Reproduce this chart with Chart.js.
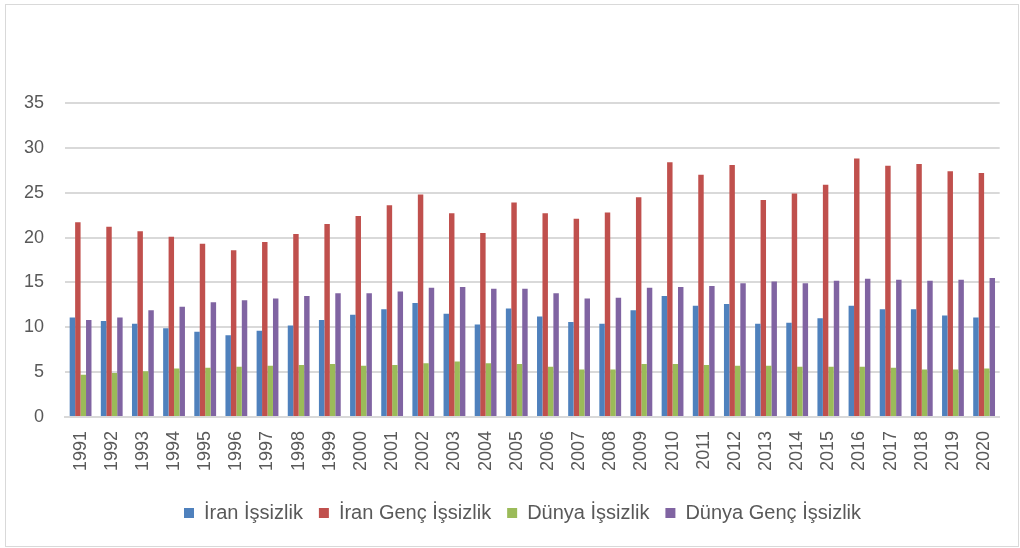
<!DOCTYPE html>
<html>
<head>
<meta charset="utf-8">
<script src="https://cdn.jsdelivr.net/npm/chart.js@4/dist/chart.umd.min.js"></script>
<style>
  html, body { margin: 0; padding: 0; background: #ffffff; }
  #wrap { width: 1020px; height: 548px; }
</style>
</head>
<body>
<div id="wrap"><canvas id="c" width="1020" height="548"></canvas></div>
<script>
const years = ['1991','1992','1993','1994','1995','1996','1997','1998','1999','2000',
  '2001','2002','2003','2004','2005','2006','2007','2008','2009','2010',
  '2011','2012','2013','2014','2015','2016','2017','2018','2019','2020'];
const iranUnemployment = [11.1,10.7,10.4,9.9,9.5,9.1,9.6,10.2,10.8,11.4,
  12.0,12.7,11.5,10.3,12.1,11.2,10.6,10.4,11.9,13.5,
  12.4,12.6,10.4,10.5,11.0,12.4,12.0,12.0,11.3,11.1];
const iranYouthUnemployment = [21.7,21.2,20.7,20.1,19.3,18.6,19.5,20.4,21.5,22.4,
  23.6,24.8,22.7,20.5,23.9,22.7,22.1,22.8,24.5,28.4,
  27.0,28.1,24.2,24.9,25.9,28.8,28.0,28.2,27.4,27.2];
const worldUnemployment = [4.7,4.9,5.1,5.4,5.5,5.6,5.7,5.8,5.9,5.7,
  5.8,6.0,6.2,6.0,5.9,5.6,5.3,5.3,5.9,5.9,
  5.8,5.7,5.7,5.6,5.6,5.6,5.5,5.3,5.3,5.4];
const worldYouthUnemployment = [10.8,11.1,11.9,12.3,12.8,13.0,13.2,13.5,13.8,13.8,
  14.0,14.4,14.5,14.3,14.3,13.8,13.2,13.3,14.4,14.5,
  14.6,14.9,15.1,14.9,15.2,15.4,15.3,15.2,15.3,15.5];
const seriesNames = ['İran İşsizlik','İran Genç İşsizlik','Dünya İşsizlik','Dünya Genç İşsizlik'];
const seriesColors = ['#4f81bd','#c0504d','#9bbb59','#8064a2'];
const yTicks = [0,5,10,15,20,25,30,35];

const FONT = "'Liberation Sans', Arial, sans-serif";
const TEXT = '#595959';

const frame = {
  id: 'frame',
  afterLayout(chart) {
    const l = chart.legend;
    if (l) { l.left += 21; l.right += 21; }
  },
  beforeDraw(chart) {
    const ctx = chart.ctx;
    ctx.save();
    ctx.fillStyle = '#ffffff';
    ctx.fillRect(0, 0, chart.width, chart.height);
    ctx.strokeStyle = '#d9d9d9';
    ctx.lineWidth = 1;
    ctx.strokeRect(5.5, 4.5, 1013, 542);
    ctx.restore();
  }
};

const dataArrays = [iranUnemployment, iranYouthUnemployment, worldUnemployment, worldYouthUnemployment];

new Chart(document.getElementById('c'), {
  type: 'bar',
  data: {
    labels: years,
    datasets: dataArrays.map((d, i) => ({
      label: seriesNames[i],
      data: d,
      backgroundColor: seriesColors[i],
      borderWidth: 0,
      barPercentage: 1.0,
      categoryPercentage: 0.7
    }))
  },
  options: {
    responsive: false,
    animation: false,
    devicePixelRatio: 1,
    layout: { padding: { top: 103, right: 17, bottom: 15, left: 0 } },
    plugins: {
      legend: {
        position: 'bottom',
        labels: {
          font: { family: FONT, size: 20 },
          color: TEXT,
          boxWidth: 10,
          boxHeight: 10,
          padding: 16
        }
      },
      tooltip: { enabled: false }
    },
    scales: {
      x: {
        grid: { display: false, drawTicks: false },
        border: { display: true, color: '#d9d9d9', width: 2 },
        ticks: {
          font: { family: FONT, size: 18 },
          color: TEXT,
          minRotation: 90,
          maxRotation: 90,
          padding: 14,
          autoSkip: false
        },
        afterFit(s) { s.height = 70; }
      },
      y: {
        min: 0,
        max: 35,
        afterBuildTicks(s) { s.ticks = yTicks.map(v => ({ value: v })); },
        grid: { color: '#d9d9d9', lineWidth: 2, drawTicks: false },
        border: { display: false },
        ticks: {
          font: { family: FONT, size: 18 },
          color: TEXT,
          padding: 21
        },
        afterFit(s) { s.width = 65; }
      }
    }
  },
  plugins: [frame]
});
</script>
</body>
</html>
